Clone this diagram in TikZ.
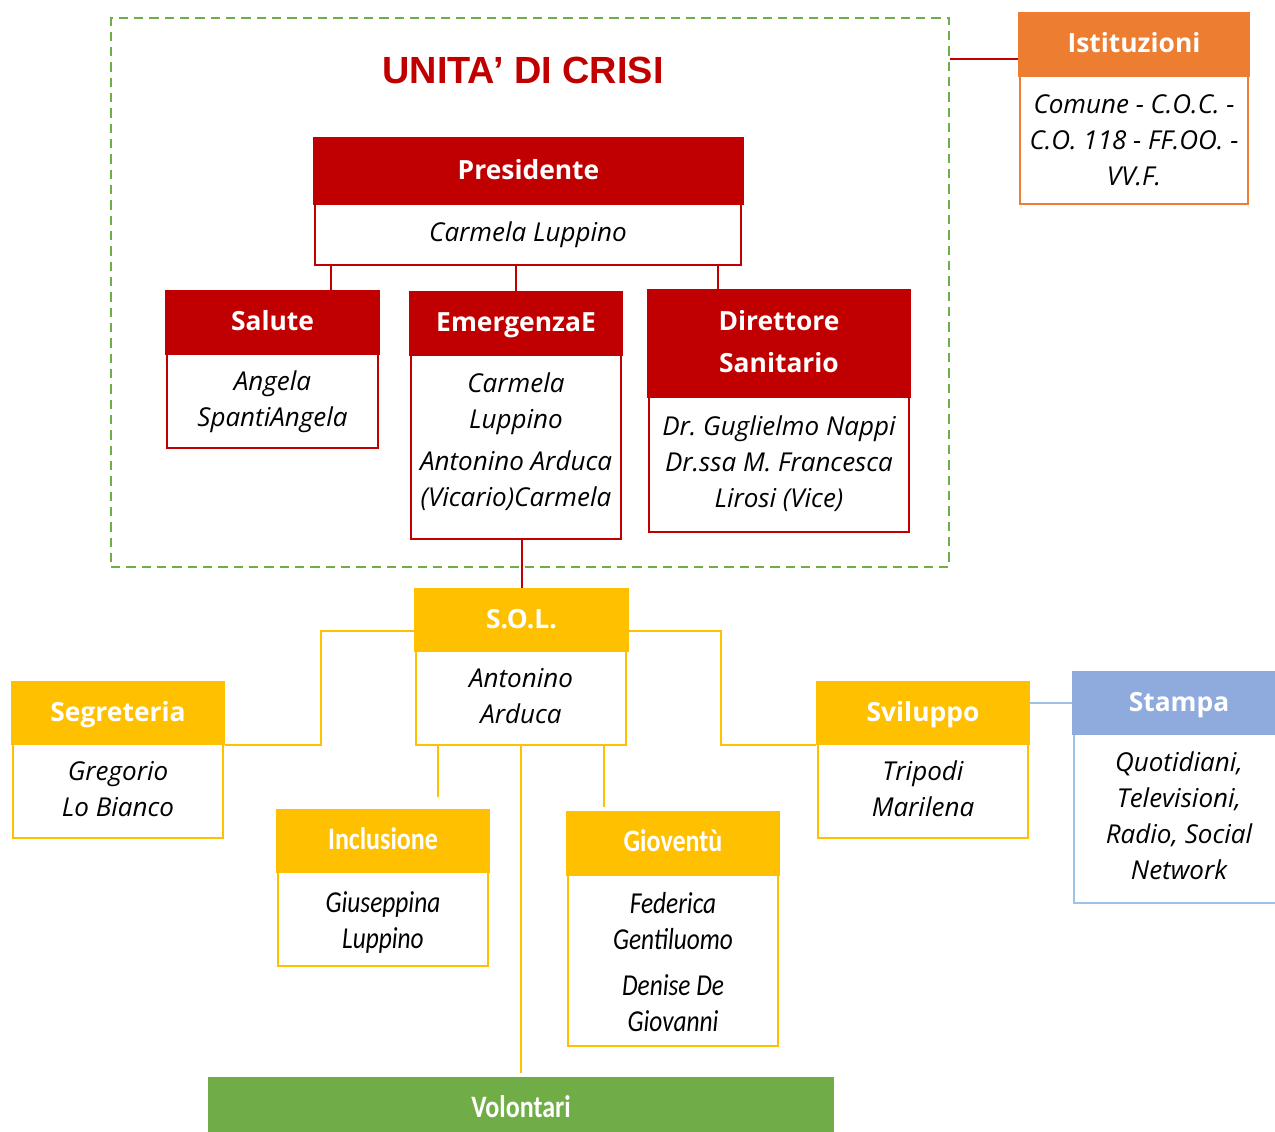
\documentclass[tikz,border=0pt]{standalone}
\usepackage{fontspec}
\usepackage{graphicx}
\setmainfont{Open Sans}
\newfontfamily\cbfam{Carlito}
\newfontfamily\lsbfam{Liberation Sans}
\usetikzlibrary{calc}
\frenchspacing
\definecolor{cred}{HTML}{C00000}
\definecolor{corange}{HTML}{ED7D31}
\definecolor{cyellow}{HTML}{FFC000}
\definecolor{cblue}{HTML}{8FAADC}
\definecolor{clblue}{HTML}{9DC3E6}
\definecolor{cgreen}{HTML}{70AD47}
\newcommand\hfnt{\frenchspacing\bfseries\fontsize{19.8}{31.5}\selectfont}
\newcommand\bfnt{\frenchspacing\itshape\fontsize{19.5}{27}\selectfont}
\newcommand\chfnt{\cbfam\bfseries\fontsize{19.5}{31.5}\selectfont}
\newcommand\cbfnt{\cbfam\itshape\fontsize{19}{27}\selectfont}
\newcommand\vst[1]{\scalebox{1}[1.2]{#1}}
\begin{document}
\begin{tikzpicture}[x=0.75pt,y=-0.75pt,
  hdr/.style={anchor=north west, inner sep=0pt, fill=#1, draw=#1, line width=1.5pt, text=white, align=center, font=\hfnt},
  bdy/.style={anchor=north west, inner sep=0pt, fill=white, draw=#1, line width=1.5pt, align=center, font=\bfnt},
  sz/.style 2 args={minimum width=#1*0.75pt, minimum height=#2*0.75pt},
  conn/.style={draw=#1, line width=1.5pt}]
\useasboundingbox (0,0) rectangle (1275,1132);
\clip (0,0) rectangle (1275,1132);

% crisis unit frame
\node[anchor=north west, inner sep=0pt, draw=cgreen, line width=1.5pt, dash pattern=on 7pt off 4.5pt, sz={838}{549}] (crisi) at (110,17) {};
\node[font=\lsbfam\bfseries\fontsize{28.4}{33}\selectfont, text=cred] (title) at (523,70) {UNITA’ DI CRISI};

% Presidente
\node[bdy=cred, sz={426}{61}] (presB) at (314,203) {\strut Carmela Luppino\strut};
\node[hdr=cred, sz={429}{66}] (presH) at (313,137) {\strut Presidente\strut};

% Salute
\node[bdy=cred, sz={211}{94}] (salB) at (166,353) {\strut Angela\\SpantiAngela\strut};
\node[hdr=cred, sz={213}{63}] (salH) at (165,290) {\strut Salute\strut};

% Emergenza
\node[bdy=cred, sz={210}{184}] (emB) at (410,354) {\strut Carmela\\Luppino\\[4.5pt]Antonino Arduca\\(Vicario)Carmela\rule[-15.6pt]{0pt}{15.6pt}};
\node[hdr=cred, sz={212}{63}] (emH) at (409,291) {\strut EmergenzaE\strut};

% Direttore Sanitario
\node[bdy=cred, sz={260}{135}] (dirB) at (648,396) {\strut Dr. Guglielmo Nappi\\Dr.ssa M. Francesca\\Lirosi (Vice)\strut};
\node[hdr=cred, sz={262}{107}] (dirH) at (647,289) {\strut Direttore\\Sanitario\strut};

% Istituzioni
\node[bdy=corange, sz={228}{128}] (istB) at (1019,75) {\rule{0pt}{23pt}Comune - C.O.C. -\\C.O. 118 - FF.OO. -\\VV.F.\strut};
\node[hdr=corange, sz={230}{63}] (istH) at (1018,12) {\strut Istituzioni\strut};

% S.O.L.
\node[bdy=cyellow, sz={210}{94}] (solB) at (415,650) {\strut Antonino\\Arduca\strut};
\node[hdr=cyellow, sz={213}{62}] (solH) at (414,588) {\strut S.O.L.\strut};

% Segreteria
\node[bdy=cyellow, sz={210}{94}] (segB) at (12,743) {\strut Gregorio\\Lo Bianco\strut};
\node[hdr=cyellow, sz={212}{62}] (segH) at (11,681) {\strut Segreteria\strut};

% Sviluppo
\node[bdy=cyellow, sz={210}{94}] (svB) at (817,743) {\strut Tripodi\\Marilena\strut};
\node[hdr=cyellow, sz={212}{62}] (svH) at (816,681) {\strut Sviluppo\strut};

% Stampa
\node[bdy=clblue, sz={210}{169}] (stB) at (1073,733) {\strut Quotidiani,\\Televisioni,\\Radio, Social\\Network\strut};
\node[hdr=cblue, sz={212}{62}] (stH) at (1072,671) {\strut Stampa\strut};

% Inclusione
\node[bdy=cyellow, sz={210}{94}, font=\cbfnt] (incB) at (277,871) {\rule{0pt}{24.9pt}\vst{Giuseppina}\\\vst{Luppino}\strut};
\node[hdr=cyellow, sz={212}{62}, font=\chfnt] (incH) at (276,809) {\strut\vst{Inclusione}\strut};

% Gioventu
\node[bdy=cyellow, sz={210}{171}, font=\cbfnt] (gioB) at (567,874) {\rule{0pt}{26.4pt}\vst{Federica}\\\vst{Gentiluomo}\\[7.5pt]\vst{Denise De}\\\vst{Giovanni}\strut};
\node[hdr=cyellow, sz={212}{63}, font=\chfnt] (gioH) at (566,811) {\strut\vst{Gioventù}\strut};

% Volontari
\node[hdr=cgreen, sz={624}{62}, font=\chfnt] (volH) at (208,1077) {\strut\vst{Volontari}\strut};

% connectors (red)
\draw[conn=cred] ($(presB.south west)+(17,0)$) coordinate (p1) -- (p1 |- salH.north);
\draw[conn=cred] (presB.south -| emH.north) -- (emH.north);
\draw[conn=cred] ($(presB.south east)+(-24,0)$) coordinate (p3) -- (p3 |- dirH.north);
\draw[conn=cred] (solH.north |- emB.south) -- (solH.north);
\draw[conn=cred] ($(istH.west)+(0,14)$) coordinate (p5) -- (p5 -| crisi.east);

% connectors (yellow)
\draw[conn=cyellow] (segH.south east) -| ($(solH.west)+(-93,11)$) -- ($(solH.west)+(0,11)$);
\draw[conn=cyellow] ($(solH.east)+(0,11)$) -| ($(svH.south west)+(-95,0)$) -- (svH.south west);
\draw[conn=cyellow, shorten >=9pt] ($(solB.south west)+(23,0)$) coordinate (q1) -- (q1 |- incH.north);
\draw[conn=cyellow, shorten >=3pt] ($(solB.south east)+(-23,0)$) coordinate (q2) -- (q2 |- gioH.north);
\draw[conn=cyellow, shorten >=3pt] (solB.south) -- (solB.south |- volH.north);

% connector (blue)
\draw[conn=clblue] (stH.west -| svH.east) -- (stH.west);
\end{tikzpicture}
\end{document}
